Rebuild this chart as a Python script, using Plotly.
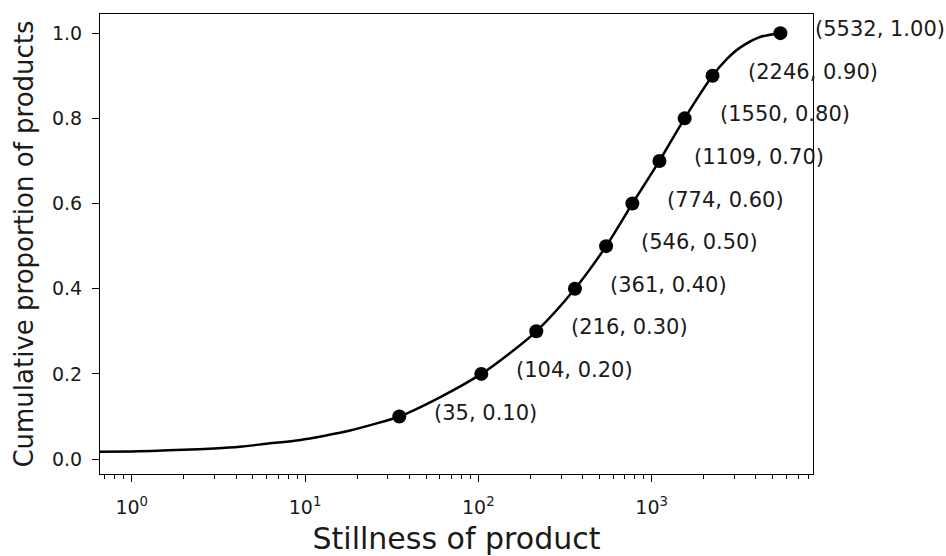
import math
import plotly.graph_objects as go

# ---- data ----
curve_x = [0.5, 1, 1.3, 2, 3, 4.2, 6, 9.4, 13, 18.2, 25, 35, 60, 104, 150, 216,
           361, 546, 774, 1109, 1550, 2246, 2712, 3236, 4220, 5532]
curve_y = [0.017, 0.018, 0.019, 0.022, 0.025, 0.029, 0.036, 0.045, 0.055, 0.067,
           0.082, 0.10, 0.145, 0.20, 0.247, 0.30, 0.40, 0.50, 0.60, 0.70, 0.80,
           0.90, 0.939, 0.966, 0.991, 1.00]

marker_x = [35, 104, 216, 361, 546, 774, 1109, 1550, 2246, 5532]
marker_y = [0.10, 0.20, 0.30, 0.40, 0.50, 0.60, 0.70, 0.80, 0.90, 1.00]

x_tick_vals = [1, 10, 100, 1000]
x_tick_text = ["10<sup>0</sup>", "10<sup>1</sup>", "10<sup>2</sup>", "10<sup>3</sup>"]
y_tick_vals = [0.0, 0.2, 0.4, 0.6, 0.8, 1.0]
y_tick_text = ["0.0", "0.2", "0.4", "0.6", "0.8", "1.0"]

FONT = "DejaVu Sans"
TXT = "#1a1a1a"

fig = go.Figure()
fig.add_trace(go.Scatter(x=curve_x, y=curve_y, mode="lines",
                         line=dict(color="black", width=2.5, shape="spline", smoothing=0.8),
                         showlegend=False, hoverinfo="skip"))
fig.add_trace(go.Scatter(x=marker_x, y=marker_y, mode="markers",
                         marker=dict(color="black", size=14),
                         showlegend=False))

for xv, yv in zip(marker_x, marker_y):
    fig.add_annotation(x=math.log10(xv), y=yv, xref="x", yref="y",
                       text=f"({xv}, {yv:.2f})",
                       showarrow=False, xanchor="left", yanchor="middle",
                       xshift=33, yshift=4,
                       font=dict(family=FONT, size=21, color=TXT))

minor_vals = [m * 10 ** d for d in range(-1, 4) for m in range(2, 10)]

fig.update_layout(
    width=946, height=556,
    margin=dict(l=100, r=133, t=14, b=82),
    paper_bgcolor="white", plot_bgcolor="white",
    font=dict(family=FONT, color=TXT),
    xaxis=dict(type="log", range=[-0.183, 3.931], automargin=False,
               tickmode="array", tickvals=x_tick_vals, ticktext=x_tick_text,
               tickfont=dict(size=19, color=TXT), ticklabelstandoff=9,
               ticks="outside", ticklen=7, tickwidth=1, tickcolor="black",
               minor=dict(tickmode="array", tickvals=minor_vals, ticks="outside",
                          ticklen=4, tickwidth=1, tickcolor="black", showgrid=False),
               showline=True, linecolor="black", linewidth=1, mirror=True,
               showgrid=False, zeroline=False,
               title=dict(text="Stillness of product", font=dict(size=30, color=TXT), standoff=19)),
    yaxis=dict(range=[-0.035, 1.045], automargin=False,
               tickmode="array", tickvals=y_tick_vals, ticktext=y_tick_text,
               tickfont=dict(size=19, color=TXT), ticklabelstandoff=6,
               ticks="outside", ticklen=7, tickwidth=1, tickcolor="black",
               showline=True, linecolor="black", linewidth=1, mirror=True,
               showgrid=False, zeroline=False,
               title=dict(text="Cumulative proportion of products", font=dict(size=26, color=TXT), standoff=10)),
)

fig.write_html("out.html")
